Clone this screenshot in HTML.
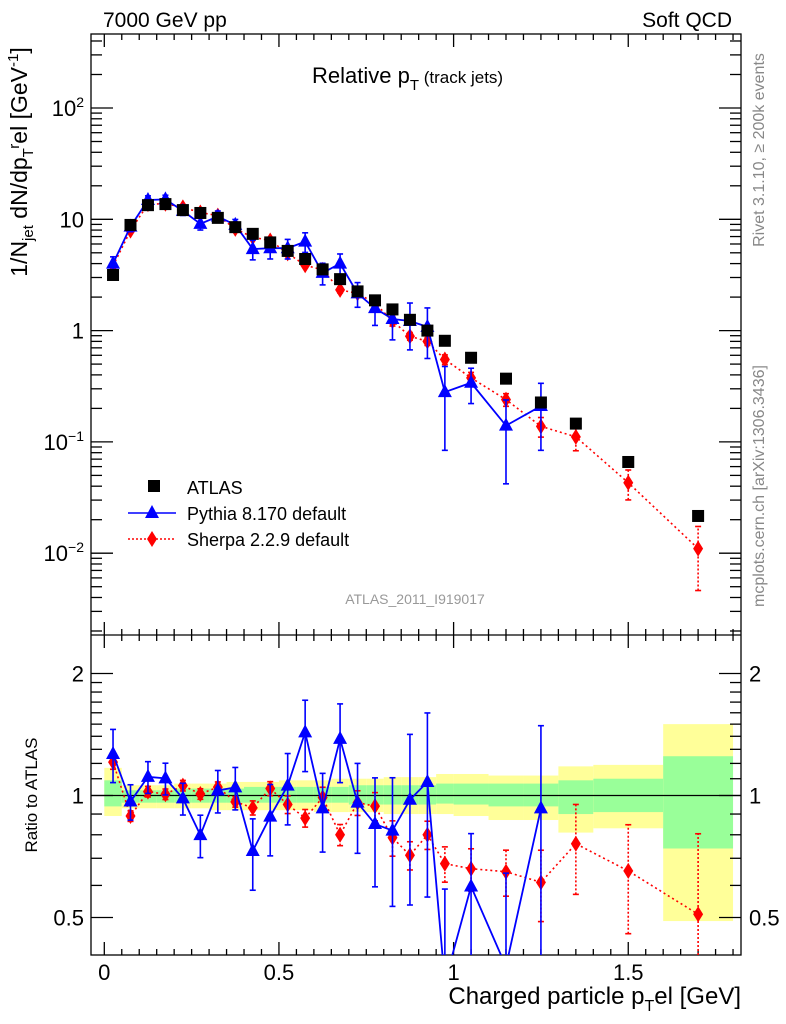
<!DOCTYPE html>
<html><head><meta charset="utf-8"><style>
html,body{margin:0;padding:0;background:#fff;width:786px;height:1024px;overflow:hidden;position:relative;}
svg{display:block;font-family:"Liberation Sans",Arial,sans-serif;}
</style></head><body>
<svg id="c" width="786" height="1024" viewBox="0 0 786 1024" xmlns="http://www.w3.org/2000/svg" style="position:absolute;left:0;top:0"></svg>
<script>
const xs=[0.025,0.075,0.125,0.175,0.225,0.275,0.325,0.375,0.425,0.475,0.525,0.575,0.625,0.675,0.725,0.775,0.825,0.875,0.925,0.975,1.05,1.15,1.25,1.35,1.5,1.7];
const binEdges=[0,0.05,0.1,0.15,0.2,0.25,0.3,0.35,0.4,0.45,0.5,0.55,0.6,0.65,0.7,0.75,0.8,0.85,0.9,0.95,1.0,1.1,1.2,1.3,1.4,1.6,1.8];
const atlas=[3.16,8.9,13.4,13.7,12.1,11.4,10.3,8.5,7.4,6.2,5.2,4.4,3.55,2.9,2.25,1.87,1.55,1.25,1.0,0.81,0.57,0.37,0.226,0.146,0.066,0.0216];
const pythia=[4.0,8.6,14.9,15.1,11.9,9.1,10.6,8.9,5.4,5.5,5.5,6.3,3.3,4.0,2.16,1.59,1.27,1.22,1.08,0.28,0.34,0.14,0.21];
const pythiaErr=[0.15,0.1,0.09,0.09,0.09,0.12,0.12,0.12,0.2,0.2,0.2,0.2,0.22,0.22,0.25,0.3,0.35,0.45,0.48,0.7,0.35,0.7,0.6];
const sherpa=[3.82,7.92,13.7,13.8,12.8,11.5,10.8,8.2,6.9,6.45,4.94,3.87,3.51,2.32,2.16,1.76,1.22,0.89,0.80,0.55,0.376,0.24,0.138,0.111,0.043,0.011];
const sherpaErr=[0.04,0.03,0.03,0.03,0.03,0.03,0.03,0.03,0.04,0.04,0.05,0.05,0.06,0.06,0.07,0.08,0.1,0.08,0.08,0.1,0.12,0.13,0.2,0.25,0.3,0.58];
const yellowHi=[1.17,1.06,1.06,1.06,1.07,1.07,1.07,1.08,1.08,1.08,1.09,1.09,1.09,1.10,1.10,1.10,1.11,1.11,1.11,1.13,1.13,1.12,1.12,1.18,1.19,1.5];
const yellowLo=[0.89,0.93,0.93,0.93,0.93,0.93,0.92,0.92,0.92,0.92,0.92,0.92,0.91,0.91,0.91,0.91,0.90,0.90,0.90,0.90,0.89,0.87,0.87,0.81,0.83,0.49];
const greenHi=[1.09,1.03,1.03,1.03,1.04,1.04,1.04,1.04,1.05,1.05,1.05,1.05,1.05,1.05,1.06,1.06,1.06,1.06,1.06,1.07,1.07,1.07,1.07,1.09,1.10,1.25];
const greenLo=[0.94,0.96,0.96,0.96,0.96,0.96,0.96,0.96,0.96,0.96,0.96,0.96,0.96,0.96,0.95,0.95,0.95,0.95,0.95,0.955,0.95,0.94,0.94,0.90,0.91,0.74];
const xTicks=[0,0.5,1,1.5];
const xTickLabels=["0","0.5","1","1.5"];
const ratioTicks=[0.5,1,2];
const ratioTickLabels=["0.5","1","2"];

const NS="http://www.w3.org/2000/svg";
const svg=document.getElementById('c');
const L=91,R=741,T=34,M=635,B=955;
const X=v=>104.3+v*349.3;
const Y=v=>108-(Math.log10(v)-2)*111.3;
const YR=v=>795.5-Math.log2(v)*122;
function mk(tag,a,parent){const e=document.createElementNS(NS,tag);for(const k in a)e.setAttribute(k,a[k]);(parent||svg).appendChild(e);return e;}
function txt(s,a,parent){const e=mk('text',a,parent);e.textContent=s;return e;}
const clipU=mk('clipPath',{id:'cu'});mk('rect',{x:L,y:T,width:R-L,height:M-T},clipU);
const clipR=mk('clipPath',{id:'cr'});mk('rect',{x:L,y:M,width:R-L,height:B-M},clipR);

const bands=mk('g',{'clip-path':'url(#cr)'});


for(let i=0;i<xs.length;i++){
  const x0=X(binEdges[i]),x1=X(binEdges[i+1]);
  const y=mk('rect',{x:x0,y:YR(yellowHi[i]),width:x1-x0,height:YR(yellowLo[i])-YR(yellowHi[i]),fill:'#ffff99'},bands);
  
  
  const g=mk('rect',{x:x0,y:YR(greenHi[i]),width:x1-x0,height:YR(greenLo[i])-YR(greenHi[i]),fill:'#99ff99'},bands);
  
  
}
mk('line',{x1:L,x2:R,y1:YR(1),y2:YR(1),stroke:'#000','stroke-width':1.3},bands);

const ax=mk('g',{stroke:'#000','stroke-width':1.3});


for(let k=0;k<=1.82;k+=0.05){
  const v=Math.round(k*100)/100, maj=Math.abs(v*2-Math.round(v*2))<1e-6;
  const len=maj?13:6;
  for(const yy of [T,M]) mk('line',{x1:X(v),x2:X(v),y1:yy,y2:yy+len},ax);
  for(const yy of [M,B]) mk('line',{x1:X(v),x2:X(v),y1:yy,y2:yy-len},ax);
}
for(let d=-3;d<=2;d++){for(let m=1;m<=9;m++){const v=m*Math.pow(10,d);const y=Y(v);if(y<T||y>M)continue;
  const len=m===1?22:11;mk('line',{x1:L,x2:L+len,y1:y,y2:y},ax);mk('line',{x1:R,x2:R-len,y1:y,y2:y},ax);}}
const rminor=[0.4,0.5,0.6,0.7,0.8,0.9,1,1.1,1.2,1.3,1.4,1.5,1.6,1.7,1.8,1.9,2];
for(const v of rminor){const y=YR(v);if(y<M||y>B)continue;const maj=ratioTicks.includes(v);const len=maj?22:11;
  mk('line',{x1:L,x2:L+len,y1:y,y2:y},ax);mk('line',{x1:R,x2:R-len,y1:y,y2:y},ax);}
mk('rect',{x:L,y:T,width:R-L,height:B-T,fill:'none'},ax);
mk('line',{x1:L,x2:R,y1:M,y2:M},ax);

const lab=mk('g',{'font-size':22,fill:'#000'});
xTicks.forEach((v,i)=>{const t=txt(xTickLabels[i],{x:X(v),y:980,'text-anchor':'middle'},lab);});
const dec=[[2,'10','2'],[1,'10',''],[0,'1',''],[-1,'10','−1'],[-2,'10','−2']];
for(const [d,b,e] of dec){const y=Y(Math.pow(10,d));const t=txt('',{x:84,y:y+8,'text-anchor':'end'},lab);
  
  const s1=mk('tspan',{},t);s1.textContent=b;if(e){const s2=mk('tspan',{dy:-9,'font-size':14},t);s2.textContent=e;}}
ratioTicks.forEach((v,i)=>{const y=YR(v)+8;
  const a=txt(ratioTickLabels[i],{x:84,y:y,'text-anchor':'end'},lab);
  const b=txt(ratioTickLabels[i],{x:749,y:y},lab);});

function errbar(g,x,lo,hi,col,dash){mk('line',{x1:x,x2:x,y1:lo,y2:hi,stroke:col,'stroke-width':1.6,'stroke-dasharray':dash||''},g);
  mk('line',{x1:x-3,x2:x+3,y1:lo,y2:lo,stroke:col,'stroke-width':1.6},g);mk('line',{x1:x-3,x2:x+3,y1:hi,y2:hi,stroke:col,'stroke-width':1.6},g);}
function tri(g,x,y,c){mk('polygon',{points:`${x},${y-8} ${x-7},${y+5} ${x+7},${y+5}`,fill:c},g);}
function dia(g,x,y,c){mk('polygon',{points:`${x},${y-8} ${x+5},${y} ${x},${y+8} ${x-5},${y}`,fill:c},g);}
function drawPanel(clip,yf,ratio){
  const g=mk('g',{'clip-path':`url(#${clip})`});
  
  
  const sv=sherpa.map((v,i)=>ratio?v/atlas[i]:v);
  mk('polyline',{points:sv.map((v,i)=>X(xs[i])+','+yf(v)).join(' '),fill:'none',stroke:'#ff0000','stroke-width':1.6,'stroke-dasharray':'2,3'},g);
  sv.forEach((v,i)=>{errbar(g,X(xs[i]),yf(v*(1-sherpaErr[i])),yf(v*(1+sherpaErr[i])),'#ff0000','2,2');});
  sv.forEach((v,i)=>{dia(g,X(xs[i]),yf(v),'#ff0000');});
  const pv=pythia.map((v,i)=>ratio?v/atlas[i]:v);
  mk('polyline',{points:pv.map((v,i)=>X(xs[i])+','+yf(v)).join(' '),fill:'none',stroke:'#0000ff','stroke-width':1.8},g);
  pv.forEach((v,i)=>{errbar(g,X(xs[i]),yf(Math.max(v*(1-pythiaErr[i]),1e-4)),yf(v*(1+pythiaErr[i])),'#0000ff');});
  pv.forEach((v,i)=>{tri(g,X(xs[i]),yf(v),'#0000ff');});
  if(!ratio){atlas.forEach((v,i)=>{const r=mk('rect',{x:X(xs[i])-6,y:yf(v)-6,width:12,height:12,fill:'#000'},g);
    });}
}
drawPanel('cu',Y,false);
drawPanel('cr',YR,true);

const lg=mk('g',{'font-size':18});


mk('rect',{x:148,y:480,width:12,height:12,fill:'#000'},lg);
txt('ATLAS',{x:187,y:494},lg);
mk('line',{x1:128,x2:176,y1:513,y2:513,stroke:'#0000ff','stroke-width':1.6},lg);tri(lg,152,513,'#0000ff');
txt('Pythia 8.170 default',{x:187,y:520},lg);
mk('line',{x1:128,x2:176,y1:539,y2:539,stroke:'#ff0000','stroke-width':1.6,'stroke-dasharray':'2,2'},lg);dia(lg,152,539,'#ff0000');
txt('Sherpa 2.2.9 default',{x:187,y:546},lg);
</script>
<svg width="786" height="1024" style="position:absolute;left:0;top:0" xmlns="http://www.w3.org/2000/svg" font-family="Liberation Sans, Arial, sans-serif">
<text x="103" y="27" font-size="21">7000 GeV pp</text>
<text x="732" y="27" font-size="21" text-anchor="end">Soft QCD</text>
<text x="312" y="83" font-size="22">Relative p<tspan dy="7" font-size="15">T</tspan><tspan dy="-7" font-size="17"> (track jets)</tspan></text>
<text x="415" y="604" font-size="14" fill="#999" text-anchor="middle">ATLAS_2011_I919017</text>
<text transform="translate(764,150) rotate(-90)" font-size="16" fill="#888" text-anchor="middle">Rivet 3.1.10, ≥ 200k events</text>
<text transform="translate(764,486) rotate(-90)" font-size="16" fill="#888" text-anchor="middle">mcplots.cern.ch [arXiv:1306.3436]</text>
<text transform="translate(27,162) rotate(-90)" font-size="23" text-anchor="middle">1/N<tspan dy="6" font-size="15">jet</tspan><tspan dy="-6"> dN/dp</tspan><tspan dy="6" font-size="15">T</tspan><tspan dy="-14" font-size="15">r</tspan><tspan dy="8">el [GeV</tspan><tspan dy="-9" font-size="15">-1</tspan><tspan dy="9">]</tspan></text>
<text transform="translate(37,795) rotate(-90)" font-size="17" text-anchor="middle">Ratio to ATLAS</text>
<text x="741" y="1004" font-size="24" text-anchor="end">Charged particle p<tspan dy="7" font-size="16">T</tspan><tspan dy="-7">el [GeV]</tspan></text>
</svg>
</body></html>
